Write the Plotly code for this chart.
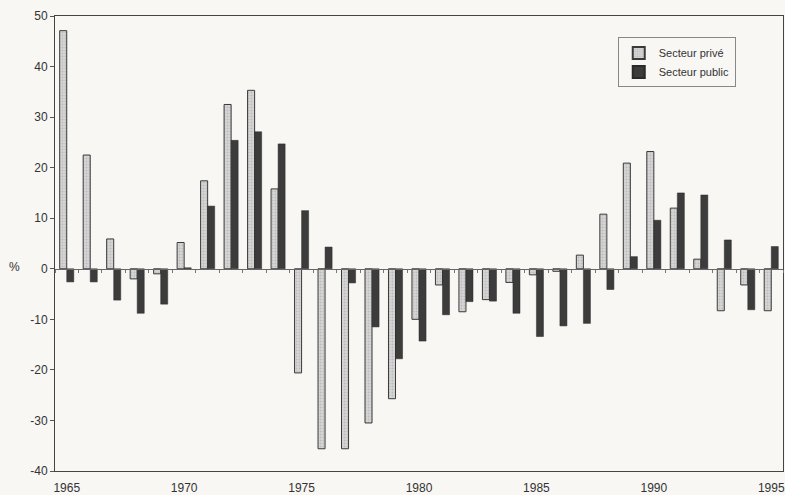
import plotly.graph_objects as go

years = list(range(1965, 1996))
prive = [47.1, 22.5, 5.9, -2.0, -1.0, 5.2, 17.4, 32.5, 35.3, 15.8,
         -20.6, -35.6, -35.6, -30.5, -25.7, -10.0, -3.2, -8.5, -6.1, -2.7,
         -1.2, -0.5, 2.7, 10.8, 20.9, 23.2, 12.0, 1.9, -8.3, -3.2, -8.3]
public = [-2.6, -2.6, -6.2, -8.8, -7.0, 0.2, 12.4, 25.4, 27.1, 24.7,
          11.5, 4.3, -2.8, -11.5, -17.8, -14.3, -9.1, -6.5, -6.4, -8.8,
          -13.4, -11.3, -10.8, -4.1, 2.4, 9.6, 15.0, 14.6, 5.7, -8.1, 4.4]
x_ticks = [1965, 1970, 1975, 1980, 1985, 1990, 1995]
y_ticks = [-40, -30, -20, -10, 0, 10, 20, 30, 40, 50]
boundaries = [y + 0.5 for y in range(1964, 1996)]

bg = "#f8f7f3"
fig = go.Figure()
fig.add_trace(go.Bar(
    x=years, y=prive, name="Secteur privé",
    marker=dict(color="#cfcfcf", line=dict(color="#3a3a3a", width=1),
                pattern=dict(shape=".", fgcolor="#a0a0a0", bgcolor="#d6d6d6",
                             size=3, solidity=0.3)),
))
fig.add_trace(go.Bar(
    x=years, y=public, name="Secteur public",
    marker=dict(color="#3c3c3c", line=dict(color="#2a2a2a", width=0.5)),
))
# invisible trace to carry the zero-crossing axis with category ticks
fig.add_trace(go.Scatter(x=[1964.5, 1995.5], y=[0, 0], xaxis="x2", mode="lines",
                         line=dict(width=0), showlegend=False, hoverinfo="skip"))

fig.update_layout(
    width=785, height=495,
    margin=dict(l=55, r=2, t=16, b=24, autoexpand=False),
    paper_bgcolor=bg, plot_bgcolor=bg,
    font=dict(family="Liberation Sans, Arial, sans-serif", size=12, color="#333333"),
    barmode="group", bargap=0.4, bargroupgap=0,
    showlegend=True,
    legend=dict(x=0.773, y=0.953, xanchor="left", yanchor="top",
                bgcolor=bg, bordercolor="#888888", borderwidth=1,
                font=dict(size=11, color="#333333"),
                itemsizing="constant", tracegroupgap=0, itemwidth=30),
    xaxis=dict(range=[1964.5, 1995.5], tickvals=x_ticks,
               ticktext=[str(v) for v in x_ticks], automargin=False,
               showgrid=False, zeroline=False, showline=True, mirror=True,
               linecolor="#444444", linewidth=1, ticks="", ticklabelstandoff=6,
               tickfont=dict(size=12, color="#333333")),
    xaxis2=dict(range=[1964.5, 1995.5], overlaying="x", anchor="free",
                position=40 / 90, side="bottom", automargin=False,
                tickvals=boundaries, showticklabels=False, ticks="outside",
                ticklen=3, tickcolor="#777777", tickwidth=1,
                showline=True, linecolor="#666666", linewidth=1,
                showgrid=False, zeroline=False),
    yaxis=dict(range=[-40, 50], tickvals=y_ticks, automargin=False,
               ticktext=[str(v) for v in y_ticks], showgrid=False,
               zeroline=False, showline=True, mirror=True,
               linecolor="#444444", linewidth=1, ticks="outside", ticklen=4,
               tickcolor="#555555", tickfont=dict(size=12, color="#333333")),
    annotations=[dict(text="%", xref="paper", yref="y", x=-0.055, y=0.3,
                      xanchor="center", yanchor="middle", showarrow=False,
                      font=dict(size=12, color="#333333"))],
)
fig.write_html("out.html", config={"displayModeBar": False},
               post_script="document.body.style.margin='0';"
                           "document.body.style.background='#f8f7f3';")
